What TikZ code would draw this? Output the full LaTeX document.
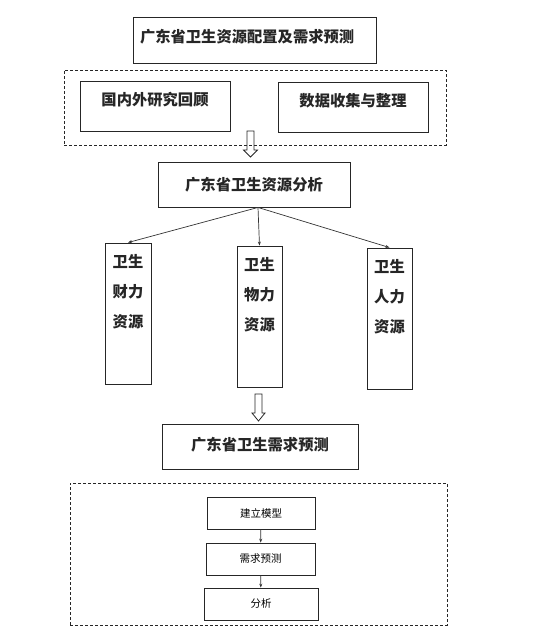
\documentclass[tikz,border=0pt]{standalone}
\usepackage{fontspec}
\newfontfamily\cjk{Noto Sans CJK SC}
\usetikzlibrary{arrows.meta}

\begin{document}
\begin{tikzpicture}[x=1pt, y=-1pt, thick,
    txt/.style={font=\cjk\bfseries\fontsize{15.3}{30}\selectfont, text=black!85, align=center, inner sep=0pt},
    box/.style={draw=black!85, line width=0.9pt, txt},
    toptext/.style={label={[txt, anchor=north, yshift=-11pt]north:#1}},
    small/.style={draw=black!85, line width=0.7pt, font=\cjk\fontsize{10.5}{12}\selectfont, minimum height=32pt, inner sep=0pt},
    frame/.style={draw=black!85, line width=0.7pt, dash pattern=on 3pt off 2pt, inner sep=0pt},
    link/.style={draw=black!80, line width=0.7pt, -{Stealth[length=4pt, width=3pt]}}]

    \useasboundingbox (0,0) rectangle (535,643);

    \node[box, text width=229pt, inner xsep=7pt, minimum height=46pt, text depth=8pt, align=left] at (254.5, 40)   (T) {广东省卫生资源配置及需求预测};

    \node[frame, minimum width=382pt, minimum height=75pt] at (255, 107.5)   (P) {};
    \node[box, minimum width=150pt, minimum height=50pt, toptext={国内外研究回顾}] at (155, 106)   (R) {};
    \node[box, minimum width=150pt, minimum height=50pt, toptext={数据收集与整理}] at (353, 107)   (D) {};

    \coordinate (P1) at (250.5, 131);
    \draw[black!85, line width=0.8pt] ([xshift=-3.5pt]P1) -- ++(7,0) -- ++(0,19) -- ++(3.5,0) -- ++(-7,7) -- ++(-7,-7) -- ++(3.5,0) -- cycle;

    \node[box, minimum width=192pt, minimum height=45pt] at (254, 184.5)   (A) {广东省卫生资源分析};

    \node[box, minimum width=46pt, minimum height=141pt, toptext={卫生\\财力\\资源}] at (128, 313.5)   (F) {};
    \node[box, minimum width=45pt, minimum height=141pt, toptext={卫生\\物力\\资源}] at (259.5, 316.5)   (M) {};
    \node[box, minimum width=45pt, minimum height=141pt, toptext={卫生\\人力\\资源}] at (389.5, 318.5)   (H) {};

    \draw[link] ([xshift=4pt]A.south) -- (F.north);
    \draw[link] ([xshift=4pt]A.south) -- (M.north);
    \draw[link] ([xshift=4pt]A.south) -- (H.north);

    \coordinate (P2) at (258.5, 394);
    \draw[black!85, line width=0.8pt] ([xshift=-3.5pt]P2) -- ++(7,0) -- ++(0,19) -- ++(3,0) -- ++(-6.5,8) -- ++(-6.5,-8) -- ++(3,0) -- cycle;

    \node[box, minimum width=196pt, minimum height=45pt, text depth=6pt] at (260, 446.5)   (N) {广东省卫生需求预测};

    \node[frame, minimum width=377pt, minimum height=142pt] at (258.5, 554)   (Q) {};
    \node[small, minimum width=108pt] at (261, 513)   (B) {建立模型};
    \node[small, minimum width=109pt] at (260.5, 559)   (C) {需求预测};
    \node[small, minimum width=114pt] at (261, 604)   (E) {分析};

    \draw[link] (B) -- (C);
    \draw[link] (C) -- (E);

\end{tikzpicture}
\end{document}
